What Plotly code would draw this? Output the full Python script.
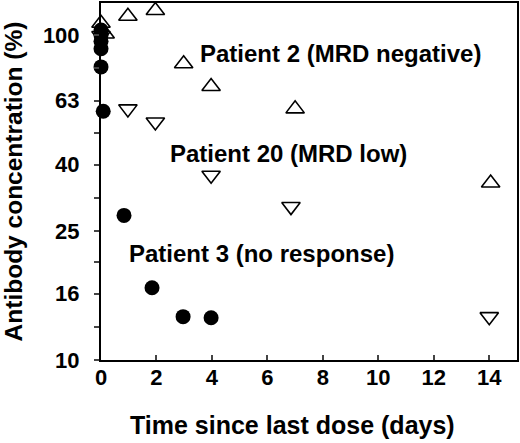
import math
import plotly.graph_objects as go

# Patient 3 (no response) - filled circles
p3_days = [0, 0, 0, 0, 0, 0.08, 0.83, 1.84, 2.96, 3.97]
p3_conc = [104, 100, 96, 91, 80, 58.4, 27.9, 16.7, 13.6, 13.5]

# Patient 2 (MRD negative) - open up triangles
p2_days = [0, 0.15, 0.97, 1.96, 2.98, 3.97, 7.0, 14.05]
p2_conc = [109, 101, 114.6, 119.4, 81.8, 69.6, 59.4, 35.1]

# Patient 20 (MRD low) - open down triangles
p20_days = [0, 0.97, 1.96, 3.97, 6.85, 14.0]
p20_conc = [100, 59.4, 54.1, 37.1, 29.7, 13.6]

x_ticks = [0, 2, 4, 6, 8, 10, 12, 14]
y_ticks = [10, 12.6, 16, 20, 25, 31.6, 40, 50, 63, 79.4, 100]
y_labels = ['10', '', '16', '', '25', '', '40', '', '63', '', '100']

labels = ['Patient 2 (MRD negative)', 'Patient 20 (MRD low)', 'Patient 3 (no response)']
label_x = [3.5, 2.4, 0.95]
label_y = [88, 43.3, 21.3]

FONT = 'Liberation Sans, Arial, sans-serif'

fig = go.Figure()

fig.add_trace(go.Scatter(x=p3_days, y=p3_conc, mode='markers', cliponaxis=False,
                         marker=dict(symbol='circle', size=15, color='black'),
                         name='Patient 3'))
fig.add_trace(go.Scatter(x=p2_days, y=p2_conc, mode='markers', cliponaxis=False,
                         marker=dict(symbol='triangle-up-open', size=16, color='black',
                                     line=dict(width=1.6)),
                         name='Patient 2'))
fig.add_trace(go.Scatter(x=p20_days, y=p20_conc, mode='markers', cliponaxis=False,
                         marker=dict(symbol='triangle-down-open', size=16, color='black',
                                     line=dict(width=1.6)),
                         name='Patient 20'))

# annotations on a log axis take log10 positions
for txt, lx, ly in zip(labels, label_x, label_y):
    fig.add_annotation(x=lx, y=math.log10(ly), text='<b>%s</b>' % txt, showarrow=False,
                       xanchor='left', yanchor='middle',
                       font=dict(family=FONT, size=24, color='black'))

# x title sits a bit left of the plot centre in the original
fig.add_annotation(x=6.9, y=-0.183, yref='paper', text='<b>Time since last dose (days)</b>',
                   showarrow=False, xanchor='center', yanchor='middle',
                   font=dict(family=FONT, size=25, color='black'))

fig.update_layout(
    width=520, height=443,
    margin=dict(l=101, r=3, t=3, b=83),
    paper_bgcolor='white', plot_bgcolor='white',
    showlegend=False,
    font=dict(family=FONT, size=22, color='black'),
    xaxis=dict(range=[0, 15], tickvals=x_ticks, ticks='inside', ticklen=5, tickwidth=2,
               showline=True, linewidth=2, linecolor='black', mirror=True,
               showgrid=False, zeroline=False, automargin=False,
               ticklabelstandoff=-3,
               tickfont=dict(family=FONT, size=22, weight='bold')),
    yaxis=dict(type='log', range=[1, 2.1], tickvals=y_ticks, ticktext=y_labels,
               ticks='outside', ticklen=5, tickwidth=2,
               showline=True, linewidth=2, linecolor='black', mirror=True,
               showgrid=False, zeroline=False, automargin=False,
               ticklabelstandoff=10,
               tickfont=dict(family=FONT, size=22, weight='bold'),
               title=dict(text='<b>Antibody concentration (%)</b>', standoff=20,
                          font=dict(family=FONT, size=24.5))),
)

fig.write_html("out.html", config={'displayModeBar': False},
               post_script="document.body.style.margin='0';")
